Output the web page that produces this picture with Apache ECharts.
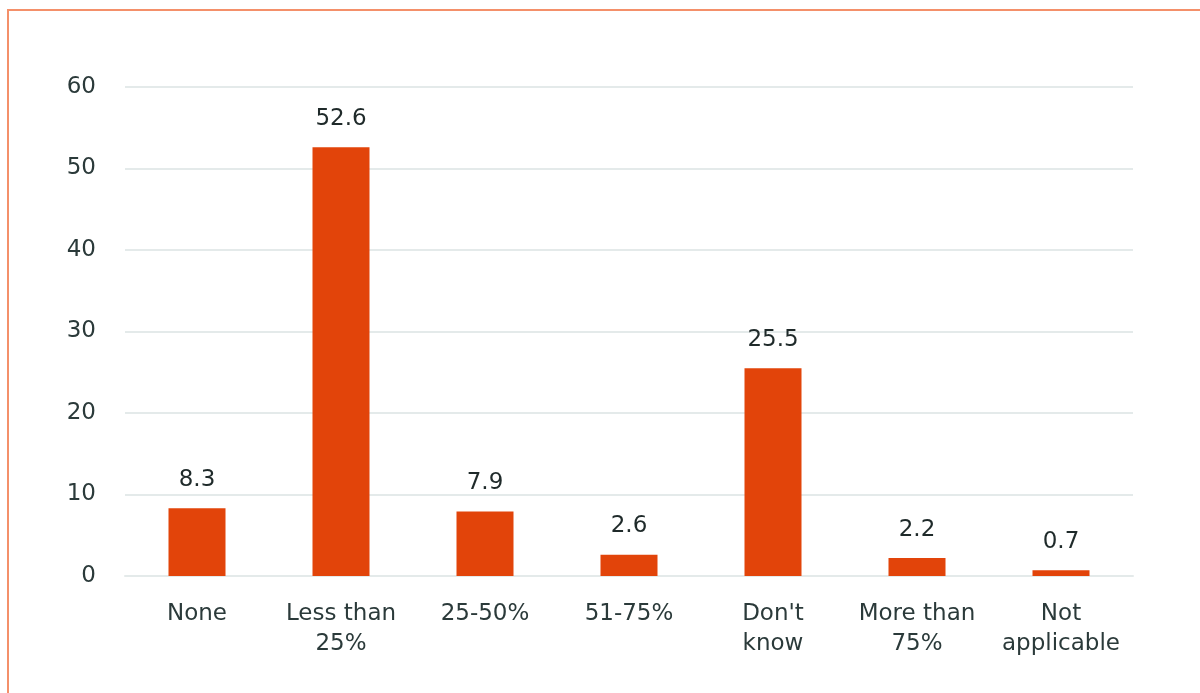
<!DOCTYPE html>
<html>
<head>
<meta charset="utf-8">
<script src="https://cdn.jsdelivr.net/npm/echarts@6/dist/echarts.min.js"></script>
<style>
  html, body { margin: 0; padding: 0; background: #fff; }
  #frame {
    position: absolute; left: 7px; top: 9px; width: 1193px; height: 684px;
    border-top: 2px solid #f4906a; border-left: 2px solid #f4906a;
  }
  #chart { position: absolute; left: 0; top: 0; width: 1200px; height: 693px; }
</style>
</head>
<body>
<div id="frame"></div>
<div id="chart"></div>
<script>
// 类目和数值
const categories = ["None", "Less than\n25%", "25-50%", "51-75%", "Don't\nknow", "More than\n75%", "Not\napplicable"];
const values = [8.3, 52.6, 7.9, 2.6, 25.5, 2.2, 0.7];
const yTicks = [0, 10, 20, 30, 40, 50, 60];

const textColor = "#2b3a3a";
const fontFamily = "DejaVu Sans";
const myChart = echarts.init(document.getElementById("chart"));
const option = {
  animation: false,
  grid: { left: 125, right: 67, top: 87, bottom: 117 },
  xAxis: {
    type: "category",
    data: categories,
    axisTick: { show: false },
    axisLine: { lineStyle: { color: "#e4eaea", width: 2 } },
    axisLabel: {
      color: textColor,
      fontFamily: fontFamily,
      fontSize: 23,
      lineHeight: 30,
      margin: 23,
      interval: 0
    }
  },
  yAxis: {
    type: "value",
    min: yTicks[0],
    max: yTicks[yTicks.length - 1],
    interval: 10,
    axisLabel: {
      color: textColor,
      fontFamily: fontFamily,
      fontSize: 23,
      margin: 29
    },
    splitLine: { lineStyle: { color: "#e4eaea", width: 2 } }
  },
  series: [
    {
      type: "bar",
      data: values,
      barWidth: 57,
      itemStyle: { color: "#e2440a" },
      label: {
        show: true,
        position: "top",
        distance: 17,
        color: "#1f2a2a",
        fontFamily: fontFamily,
        fontSize: 23
      }
    }
  ]
};
myChart.setOption(option);
</script>
</body>
</html>
